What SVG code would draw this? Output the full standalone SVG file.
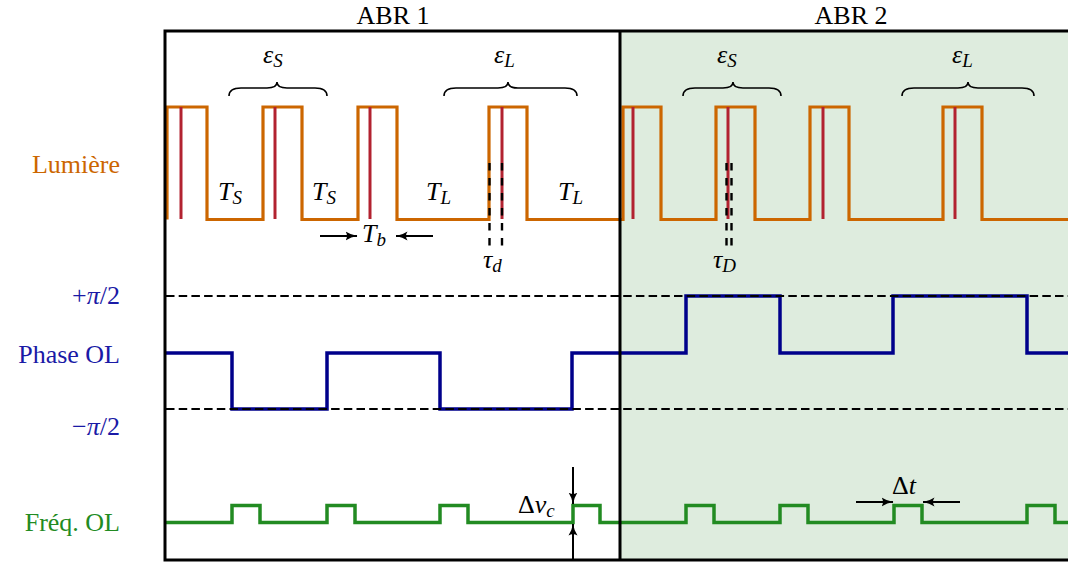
<svg xmlns="http://www.w3.org/2000/svg" width="1068" height="564" viewBox="0 0 1068 564">
<defs>
<style>
text{font-family:"Liberation Serif","DejaVu Serif",serif;font-size:26px;fill:#000}
.m{font-style:italic}
.sub{font-size:19px}
.lbl{text-anchor:end}
.orange{fill:none;stroke:#CC6600;stroke-width:3.2}
.red{stroke:#B22230;stroke-width:3}
.blue{fill:none;stroke:#00008B;stroke-width:3.5}
.green{fill:none;stroke:#228B22;stroke-width:3.5}
.dash{stroke:#000;stroke-width:2;stroke-dasharray:8.5 4.2;fill:none}
.tdash{stroke:#000;stroke-width:2.4;stroke-dasharray:7.5 7.5;fill:none}
.brace{fill:none;stroke:#000;stroke-width:1.6}
.arr{stroke:#000;stroke-width:2;fill:none;marker-end:url(#ah)}
.frame{fill:none;stroke:#000;stroke-width:3}
</style>
<marker id="ah" viewBox="0 0 12 10" refX="11.5" refY="5" markerWidth="12" markerHeight="10" markerUnits="userSpaceOnUse" orient="auto">
<path d="M0,0.5 Q5,4 12,5 Q5,6 0,9.5 Q3,5 0,0.5 z" fill="#000"/>
</marker>
</defs>

<rect id="abr2-bg" x="620" y="31" width="460" height="529" fill="#DEECDE"/>

<g id="titles">
<text x="393" y="24" text-anchor="middle">ABR 1</text>
<text x="851" y="24" text-anchor="middle">ABR 2</text>
</g>

<g id="labels">
<text class="lbl" x="120" y="173" style="fill:#CC6600">Lumière</text>
<text class="lbl" x="120" y="304" style="fill:#1A1AA6">+<tspan class="m" style="fill:#1A1AA6">π</tspan>/2</text>
<text class="lbl" x="120" y="363" style="fill:#1A1AA6">Phase OL</text>
<text class="lbl" x="120" y="435" style="fill:#1A1AA6">−<tspan class="m" style="fill:#1A1AA6">π</tspan>/2</text>
<text class="lbl" x="120" y="531" style="fill:#228B22">Fréq. OL</text>
</g>

<g id="lumiere">
<path class="orange" d="M167,219.5 V107 H207 V219.5 H263 V107 H302 V219.5 H358 V107 H397 V219.5 H489 V107 H527 V219.5 H623 V107 H661 V219.5 H716 V107 H755 V219.5 H810 V107 H849 V219.5 H943 V107 H982 V219.5 H1070"/>
<g class="red">
<line x1="181" y1="107" x2="181" y2="219"/>
<line x1="275" y1="107" x2="275" y2="219"/>
<line x1="370" y1="107" x2="370" y2="219"/>
<line x1="502" y1="107" x2="502" y2="219"/>
<line x1="633" y1="107" x2="633" y2="219"/>
<line x1="728" y1="107" x2="728" y2="219"/>
<line x1="823" y1="107" x2="823" y2="219"/>
<line x1="955" y1="107" x2="955" y2="219"/>
</g>
</g>

<g id="braces">
<path class="brace" d="M229,96 Q229,88 241,88 H267 Q277,88 277,82 Q277,88 287,88 H315 Q327,88 327,96"/>
<path class="brace" d="M444,96 Q444,88 456,88 H498 Q508,88 508,82 Q508,88 518,88 H565 Q577,88 577,96"/>
<path class="brace" d="M683,96 Q683,88 695,88 H723 Q733,88 733,82 Q733,88 743,88 H769 Q781,88 781,96"/>
<path class="brace" d="M902,96 Q902,88 914,88 H958 Q968,88 968,82 Q968,88 978,88 H1022 Q1034,88 1034,96"/>
<text class="m" x="263" y="63">ε<tspan class="sub" dy="4">S</tspan></text>
<text class="m" x="494" y="63">ε<tspan class="sub" dy="4">L</tspan></text>
<text class="m" x="717" y="63">ε<tspan class="sub" dy="4">S</tspan></text>
<text class="m" x="952" y="63">ε<tspan class="sub" dy="4">L</tspan></text>
</g>

<g id="periods">
<text class="m" x="218" y="200">T<tspan class="sub" dy="4">S</tspan></text>
<text class="m" x="312" y="200">T<tspan class="sub" dy="4">S</tspan></text>
<text class="m" x="426" y="200">T<tspan class="sub" dy="4">L</tspan></text>
<text class="m" x="558" y="200">T<tspan class="sub" dy="4">L</tspan></text>
</g>

<g id="tau">
<line class="tdash" x1="489.5" y1="163" x2="489.5" y2="253"/>
<line class="tdash" x1="502" y1="163" x2="502" y2="253"/>
<line class="tdash" x1="726.5" y1="163" x2="726.5" y2="253"/>
<line class="tdash" x1="731.5" y1="163" x2="731.5" y2="253"/>
<text class="m" x="483" y="268">τ<tspan class="sub" dy="4">d</tspan></text>
<text class="m" x="713" y="268">τ<tspan class="sub" dy="4">D</tspan></text>
</g>

<g id="phase">
<path class="blue" d="M165,353 H232 V409 H327 V353 H440 V409 H572 V353 H686 V296 H780 V353 H893 V296 H1027 V353 H1070"/>
<line class="dash" x1="166" y1="296" x2="1068" y2="296"/>
<line class="dash" x1="166" y1="409" x2="1068" y2="409"/>
</g>

<g id="freq">
<path class="green" d="M165,522.5 H232 V505.5 H260 V522.5 H327 V505.5 H355 V522.5 H440 V505.5 H468 V522.5 H573 V505.5 H600 V522.5 H686 V505.5 H714 V522.5 H780 V505.5 H808 V522.5 H894 V505.5 H922 V522.5 H1027 V505.5 H1055 V522.5 H1070"/>
</g>

<g id="connectors">
<line class="arr" x1="320" y1="236" x2="357" y2="236"/>
<line class="arr" x1="433" y1="236" x2="396" y2="236"/>
<line class="arr" x1="573" y1="467" x2="573" y2="504"/>
<line class="arr" x1="573" y1="560" x2="573" y2="524"/>
<line class="arr" x1="856" y1="502" x2="893" y2="502"/>
<line class="arr" x1="960" y1="502" x2="923" y2="502"/>
</g>

<g id="annotations">
<text class="m" x="362" y="242">T<tspan class="sub" dy="4">b</tspan></text>
<text x="518" y="513">Δ<tspan class="m">ν</tspan><tspan class="m sub" dy="4">c</tspan></text>
<text x="892" y="494">Δ<tspan class="m">t</tspan></text>
</g>

<g id="frame">
<path class="frame" d="M1070,31 H165 V560 H1070"/>
<line x1="620" y1="31" x2="620" y2="560" stroke="#000" stroke-width="3"/>
</g>
</svg>
